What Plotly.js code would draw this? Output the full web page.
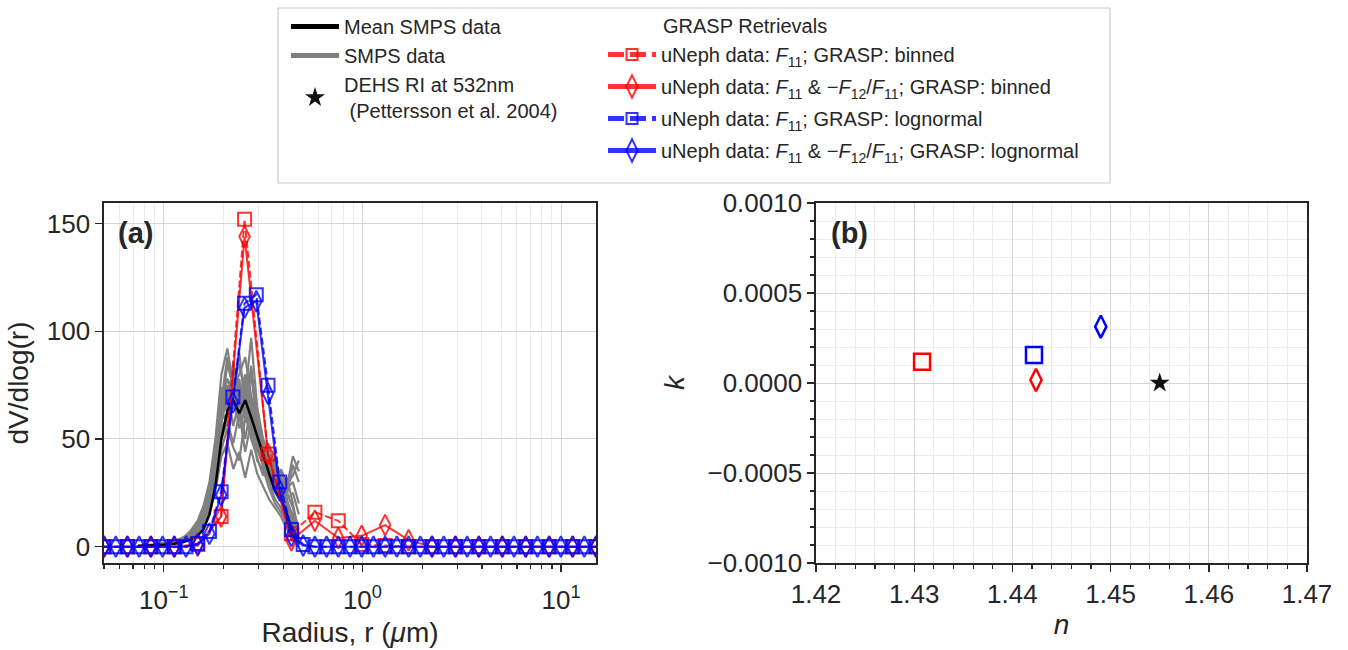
<!DOCTYPE html>
<html>
<head>
<meta charset="utf-8">
<script src="https://cdn.plot.ly/plotly-3.0.1.min.js"></script>
<style>html,body{margin:0;padding:0;background:#fff;}#chart{width:1348px;height:650px;}</style>
</head>
<body>
<div id="chart"></div>
<script>
// ---------- data ----------
// GRASP radius grid (µm), lognormal retrievals use all bins
const rBins = [0.0500,0.0573,0.0656,0.0751,0.0861,0.0986,0.1129,0.1294,0.1482,0.1698,0.1944,0.2227,0.2551,0.2922,0.3347,0.3834,0.4392,0.5031,0.5763,0.6601,0.7561,0.8661,0.9920,1.1363,1.3016,1.4910,1.7079,1.9563,2.2409,2.5669,2.9403,3.3680,3.8579,4.4191,5.0619,5.7982,6.6417,7.6078,8.7145,9.9814,11.433,13.096,15.001];
// binned retrievals (22 bins)
const rBinned = [0.0500,0.0656,0.0861,0.1129,0.1482,0.1944,0.2551,0.3347,0.4392,0.5763,0.7561,0.9920,1.3016,1.7079,2.2409,2.9403,3.8579,5.0619,6.6417,8.7145,11.433,15.001];

const binnedF11     = [0,0,0,0,1,14,152,43,6,16,12,1,0.5,0,0,0,0,0,0,0,0,0];
const binnedF11F12  = [0,0,0,0,0.5,14,144,43,3,12,4,5,10,3,0,0,0,0,0,0,0,0];
const lognF11    = [0,0,0,0,0,0,0,0,1.5,7,25.5,69.5,113,117,75,30,8,1,0,0,0,0,0,0,0,0,0,0,0,0,0,0,0,0,0,0,0,0,0,0,0,0,0];
const lognF11F12 = [0,0,0,0,0,0,0,0,1,6,24,67,111,114,71,26,5,0.5,0,0,0,0,0,0,0,0,0,0,0,0,0,0,0,0,0,0,0,0,0,0,0,0,0];

// SMPS radius grid (µm)
const rSMPS = [0.0741,0.0794,0.0851,0.0912,0.0977,0.1047,0.1122,0.1202,0.1288,0.1380,0.1479,0.1585,0.1698,0.1820,0.1950,0.2089,0.2239,0.2399,0.2570,0.2754,0.2951,0.3162,0.3388,0.3631,0.3890,0.4169,0.4467,0.4786];
const smpsMean = [0.3,0.4,0.5,0.6,0.8,1.0,1.3,1.8,2.5,3.5,5,8,15,28,50,63,68,62,68,60,52,43,34,26,22,15,6,2];
const smps1  = [0,0,0,0.5,0.5,1,1.5,2,3,5,8,13,22,38,62,85,74,80,88,70,58,45,38,30,24,18,10,3];
const smps2  = [0,0,0.5,0.5,1,1,2,3,4,6,10,16,27,45,70,62,78,60,75,62,50,40,35,28,30,22,14,5];
const smps3  = [0,0.5,0.5,1,1,1.5,2,2.5,4,6,9,14,24,40,60,72,56,68,50,66,48,38,30,22,18,12,6,2];
const smps4  = [0,0,0,0.5,1,1,1.5,2.5,3.5,5,7,11,18,32,50,58,48,62,44,58,40,36,27,20,16,10,5,1];
const smps5  = [0,0,0.5,1,1,2,2.5,3.5,5,8,12,19,30,50,80,92,75,85,70,97,65,50,42,35,30,25,18,8];
const smps6  = [0,0.5,0.5,0.5,1,1.5,2,3,4,5.5,8,12,20,35,55,60,70,55,64,50,42,33,40,34,28,32,20,6];
const smps7  = [0,0,0,0,0.5,1,1,2,3,4,6,10,16,28,45,55,46,40,60,52,45,38,32,26,30,24,38,30];
const smps8  = [0,0,0.5,0.5,1,1,1.5,2,3,4.5,7,11,19,34,58,70,82,65,72,58,48,40,35,40,25,20,15,4];
const smps9  = [0.5,0.5,0.5,1,1,1.5,2,3,4,6,9,15,25,42,66,78,70,75,62,80,56,45,38,30,35,28,42,35];
const smps10 = [0,0,0,0.5,0.5,1,1.5,2,3,4,6,9,15,26,42,48,36,44,32,45,34,28,22,18,14,8,3,0];
const smps11 = [0,0,0.5,1,1,1.5,2,3,4,6,9,14,24,42,68,88,72,90,66,84,60,47,40,33,28,20,12,4];
const smps12 = [0,0.5,0.5,1,1.5,2,2.5,3.5,5,7,11,17,28,46,74,64,86,70,80,66,55,42,46,36,32,27,30,20];
const smps13 = [0,0,0,0.5,1,1,2,2.5,3.5,5,8,12,20,36,57,75,66,58,70,62,51,38,33,42,30,22,25,15];
const smps14 = [0,0,0.5,0.5,1,1,1.5,2.5,3.5,5,8,12,21,37,60,70,64,78,58,70,47,39,31,27,36,29,33,40];
const smps15 = [0.5,0.5,1,1,1.5,2,2.5,3,4.5,6.5,10,16,26,44,64,56,74,66,78,54,52,44,36,29,24,16,9,2];
const smpsRuns = [smps1,smps2,smps3,smps4,smps5,smps6,smps7,smps8,smps9,smps10,smps11,smps12,smps13,smps14,smps15];

// refractive index retrievals (panel b)
const nBinnedF11 = [1.4308],    kBinnedF11 = [0.000118];
const nBinnedF11F12 = [1.4424], kBinnedF11F12 = [0.0000167];
const nLognF11 = [1.4422],      kLognF11 = [0.000156];
const nLognF11F12 = [1.4490],   kLognF11F12 = [0.000313];
const nDEHS = [1.455],          kDEHS = [0.0];

// labels
const lblMean = 'Mean SMPS data';
const lblSMPS = 'SMPS data';
const lblDEHS = 'DEHS RI at 532nm<br> (Pettersson et al. 2004)';
const lblGroup = 'GRASP Retrievals';
const lblB1 = 'uNeph data: <i>F</i><sub>11</sub>; GRASP: binned';
const lblB2 = 'uNeph data: <i>F</i><sub>11</sub> &amp; −<i>F</i><sub>12</sub>/<i>F</i><sub>11</sub>; GRASP: binned';
const lblL1 = 'uNeph data: <i>F</i><sub>11</sub>; GRASP: lognormal';
const lblL2 = 'uNeph data: <i>F</i><sub>11</sub> &amp; −<i>F</i><sub>12</sub>/<i>F</i><sub>11</sub>; GRASP: lognormal';

// ---------- styles ----------
const FONT = 'Liberation Sans, Arial, sans-serif';
const RED = 'rgba(255,0,0,0.8)', BLUE = 'rgba(0,0,255,0.8)';
const W = 1348, H = 650;
const px = v => v / W, py = v => 1 - v / H;
const LFS = 20;

const traces = [];
smpsRuns.forEach(s => {
  traces.push({x: rSMPS, y: s, type: 'scatter', mode: 'lines', xaxis: 'x', yaxis: 'y',
    line: {color: '#808080', width: 2.2}, name: lblSMPS, showlegend: false, hoverinfo: 'skip'});
});
traces.push({x: rSMPS, y: smpsMean, type: 'scatter', mode: 'lines', xaxis: 'x', yaxis: 'y',
  line: {color: '#000000', width: 2.5}, name: lblMean, showlegend: false});
// legend handles, left column
traces.push({x: [null], y: [null], type: 'scatter', mode: 'lines', xaxis: 'x', yaxis: 'y',
  line: {color: '#000000', width: 5}, name: lblMean, legend: 'legend', legendgroup: 'm'});
traces.push({x: [null], y: [null], type: 'scatter', mode: 'lines', xaxis: 'x', yaxis: 'y',
  line: {color: '#808080', width: 5}, name: lblSMPS, legend: 'legend', legendgroup: 's'});

const retr = [
  {x: rBinned, y: binnedF11, c: RED, sym: 'square-open', size: 13, dash: '7px,3px', ldash: '16px,6px', lsize: 11, name: lblB1},
  {x: rBinned, y: binnedF11F12, c: RED, sym: 'diamond-tall-open', size: 15, dash: 'solid', ldash: 'solid', lsize: 16, name: lblB2},
  {x: rBins, y: lognF11, c: BLUE, sym: 'square-open', size: 13, dash: '7px,3px', ldash: '16px,6px', lsize: 11, name: lblL1},
  {x: rBins, y: lognF11F12, c: BLUE, sym: 'diamond-tall-open', size: 15, dash: 'solid', ldash: 'solid', lsize: 16, name: lblL2},
];
retr.forEach(t => {
  traces.push({x: t.x, y: t.y, type: 'scatter', mode: 'lines+markers', xaxis: 'x', yaxis: 'y',
    line: {color: t.c, width: 2, dash: t.dash},
    marker: {symbol: t.sym, size: t.size, color: t.c, line: {color: t.c, width: 2}},
    name: t.name, showlegend: false});
});
retr.forEach((t, i) => {
  traces.push({x: [null], y: [null], type: 'scatter', mode: 'lines+markers', xaxis: 'x', yaxis: 'y',
    line: {color: t.c, width: 5, dash: t.ldash},
    marker: {symbol: t.sym, size: t.lsize, color: t.c, line: {color: t.c, width: 2}},
    name: t.name, legend: 'legend2', legendgroup: 'g' + i});
});

// panel b
const pts = [
  {x: nBinnedF11, y: kBinnedF11, c: '#ff0000', sym: 'square-open', size: 16},
  {x: nBinnedF11F12, y: kBinnedF11F12, c: '#ff0000', sym: 'diamond-tall-open', size: 16},
  {x: nLognF11, y: kLognF11, c: '#0000ff', sym: 'square-open', size: 16},
  {x: nLognF11F12, y: kLognF11F12, c: '#0000ff', sym: 'diamond-tall-open', size: 16},
];
pts.forEach(p => {
  traces.push({x: p.x, y: p.y, type: 'scatter', mode: 'markers', xaxis: 'x2', yaxis: 'y2',
    marker: {symbol: p.sym, size: p.size, color: p.c, line: {color: p.c, width: 2.5}}, showlegend: false});
});
traces.push({x: nDEHS, y: kDEHS, type: 'scatter', mode: 'markers', xaxis: 'x2', yaxis: 'y2',
  marker: {symbol: 'star', size: 15, color: '#111111'}, name: lblDEHS, legend: 'legend', legendgroup: 'd'});

const TF = {family: FONT, size: 26, color: '#262626'};
const AX = {showline: true, linecolor: '#262626', linewidth: 1.6, mirror: true,
  ticks: 'outside', ticklen: 7, tickwidth: 1.4, tickcolor: '#262626',
  tickfont: TF, showgrid: true, gridcolor: '#d6d6d6', gridwidth: 1, zeroline: false};
const TITLEF = {family: FONT, size: 28, color: '#262626'};

const yDom = [1 - 563/H, 1 - 203/H];

const layout = {
  width: W, height: H, margin: {l: 0, r: 0, t: 0, b: 0},
  paper_bgcolor: '#ffffff', plot_bgcolor: '#ffffff',
  font: {family: FONT, color: '#262626'},
  showlegend: true,
  xaxis: Object.assign({}, AX, {
    type: 'log', domain: [px(104), px(596)], anchor: 'y',
    range: [Math.log10(0.05), Math.log10(15)],
    tickmode: 'array', tickvals: [0.1, 1, 10],
    ticktext: ['10<sup>−1</sup>', '10<sup>0</sup>', '10<sup>1</sup>'],
    ticklabelstandoff: 6,
    minor: {tickmode: 'array', tickvals: [0.05,0.06,0.07,0.08,0.09,0.2,0.3,0.4,0.5,0.6,0.7,0.8,0.9,2,3,4,5,6,7,8,9],
      ticks: 'outside', ticklen: 4, tickwidth: 1.2, tickcolor: '#262626', showgrid: true, gridcolor: '#ececec', gridwidth: 1},
    title: {text: 'Radius, r (<i>μ</i>m)', font: TITLEF, standoff: 8}
  }),
  yaxis: Object.assign({}, AX, {
    domain: yDom, anchor: 'x', range: [-7.6, 159.6],
    tickmode: 'array', tickvals: [0, 50, 100, 150],
    title: {text: 'dV/dlog(r)', font: TITLEF, standoff: 10}
  }),
  xaxis2: Object.assign({}, AX, {
    domain: [px(816), px(1307)], anchor: 'y2', range: [1.42, 1.47],
    tickmode: 'linear', tick0: 1.42, dtick: 0.01, tickformat: '.2f',
    minor: {tickmode: 'linear', tick0: 1.42, dtick: 0.002, ticks: 'outside', ticklen: 4, tickwidth: 1.2,
      tickcolor: '#262626', showgrid: true, gridcolor: '#ececec', gridwidth: 1},
    title: {text: '<i>n</i>', font: TITLEF, standoff: 6}
  }),
  yaxis2: Object.assign({}, AX, {
    domain: yDom, anchor: 'x2', range: [-0.001, 0.001],
    tickmode: 'linear', tick0: -0.001, dtick: 0.0005, tickformat: '.4f',
    minor: {tickmode: 'linear', tick0: -0.001, dtick: 0.0001, ticks: 'outside', ticklen: 4, tickwidth: 1.2,
      tickcolor: '#262626', showgrid: true, gridcolor: '#ececec', gridwidth: 1},
    title: {text: '<i>k</i>', font: TITLEF, standoff: 14}
  }),
  legend: {x: px(286), xanchor: 'left', y: py(7), yanchor: 'top', bgcolor: 'rgba(0,0,0,0)',
    borderwidth: 0, font: {family: FONT, size: LFS, color: '#262626'}, itemwidth: 48,
    traceorder: 'grouped', tracegroupgap: 0},
  legend2: {x: px(603), xanchor: 'left', y: py(35), yanchor: 'top', bgcolor: 'rgba(0,0,0,0)',
    borderwidth: 0, font: {family: FONT, size: LFS, color: '#262626'}, itemwidth: 48,
    traceorder: 'grouped', tracegroupgap: 3},
  shapes: [{type: 'rect', xref: 'paper', yref: 'paper', x0: px(278), x1: px(1110), y0: py(183), y1: py(8),
    line: {color: '#cccccc', width: 1.2}, fillcolor: 'rgba(255,255,255,0.8)', layer: 'above'}],
  annotations: [
    {xref: 'paper', yref: 'paper', x: px(661), y: py(26), xanchor: 'left', yanchor: 'middle', showarrow: false,
      text: lblGroup, font: {family: FONT, size: LFS, color: '#262626'}},
    {xref: 'paper', yref: 'paper', x: px(116), y: py(233), xanchor: 'left', yanchor: 'middle', showarrow: false,
      text: '<b>(a)</b>', font: {family: FONT, size: 29, color: '#262626'}},
    {xref: 'paper', yref: 'paper', x: px(829), y: py(233), xanchor: 'left', yanchor: 'middle', showarrow: false,
      text: '<b>(b)</b>', font: {family: FONT, size: 29, color: '#262626'}}
  ]
};

Plotly.newPlot('chart', traces, layout, {displayModeBar: false, staticPlot: true});
</script>
</body>
</html>
